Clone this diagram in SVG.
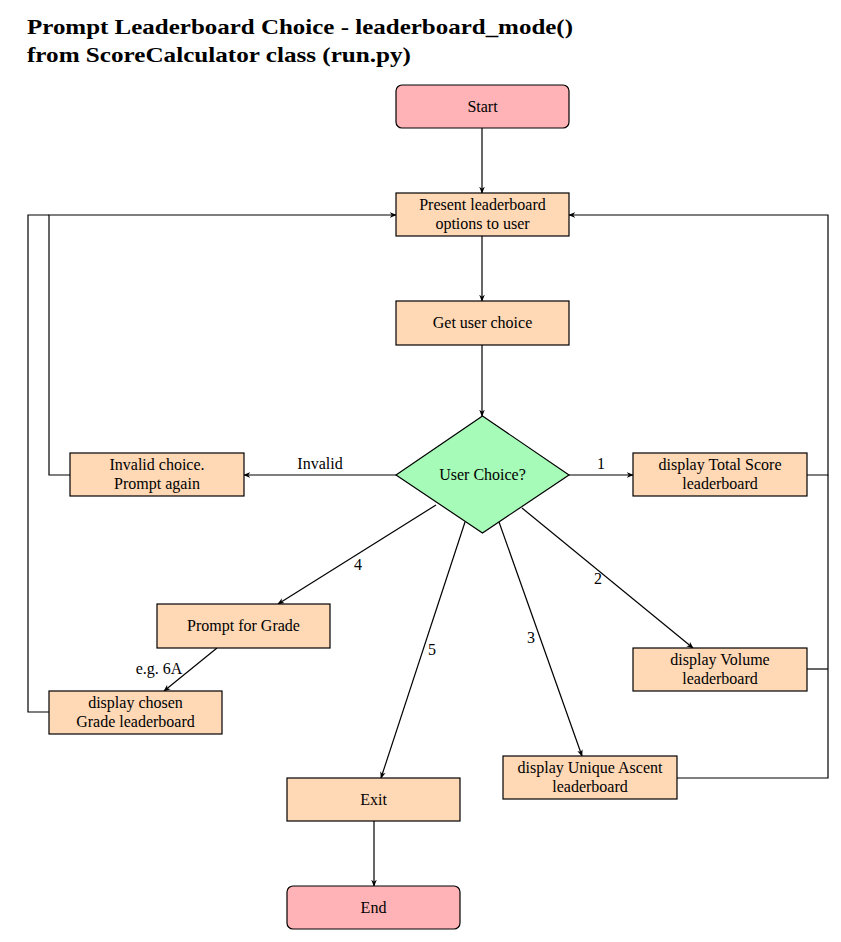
<svg xmlns="http://www.w3.org/2000/svg" width="841" height="942" viewBox="0 0 841 942">
<style>
.t{font-family:"Liberation Serif","DejaVu Serif",serif;font-size:16px;fill:#000;text-anchor:middle}
.title{font-family:"Liberation Serif","DejaVu Serif",serif;font-size:22px;font-weight:bold;fill:#000}
.box{fill:#ffd8b6;stroke:#000;stroke-width:1.2}
.term{fill:#ffb3b6;stroke:#000;stroke-width:1.2}
.dec{fill:#a6fbb8;stroke:#000;stroke-width:1.2}
.c{fill:none;stroke:#000;stroke-width:1.2}
</style>
<defs>
<marker id="a" viewBox="0 0 10 10" refX="9" refY="5" markerWidth="7" markerHeight="7" markerUnits="userSpaceOnUse" orient="auto">
<path d="M0,1 L10,5 L0,9 L3,5 Z" fill="#000"/>
</marker>
</defs>
<rect width="841" height="942" fill="#fff"/>
<text class="title" x="27" y="34" textLength="546" lengthAdjust="spacingAndGlyphs">Prompt Leaderboard Choice - leaderboard_mode()</text>
<text class="title" x="27" y="62" textLength="384" lengthAdjust="spacingAndGlyphs">from ScoreCalculator class (run.py)</text>

<g id="connectors">
<path class="c" d="M482,128 V193" marker-end="url(#a)"/>
<path class="c" d="M482,236 V301" marker-end="url(#a)"/>
<path class="c" d="M482,345 V416" marker-end="url(#a)"/>
<path class="c" d="M396,475 H244" marker-end="url(#a)"/>
<path class="c" d="M569,475 H633" marker-end="url(#a)"/>
<path class="c" d="M436,505 L278,604" marker-end="url(#a)"/>
<path class="c" d="M465,522 L381,778" marker-end="url(#a)"/>
<path class="c" d="M499,522 L582,756" marker-end="url(#a)"/>
<path class="c" d="M522,508 L693,648" marker-end="url(#a)"/>
<path class="c" d="M217,648 L164,691" marker-end="url(#a)"/>
<path class="c" d="M374,821 V886" marker-end="url(#a)"/>
<path class="c" d="M70,475 H49 V215 H396" marker-end="url(#a)"/>
<path class="c" d="M49,712 H28 V215 H49"/>
<path class="c" d="M807,475 H828 V215 H569" marker-end="url(#a)"/>
<path class="c" d="M807,669 H828"/>
<path class="c" d="M677,778 H828 V475"/>
<text class="t" x="320" y="469">Invalid</text>
<text class="t" x="601" y="469">1</text>
<text class="t" x="358" y="570">4</text>
<text class="t" x="598" y="584">2</text>
<text class="t" x="531" y="643">3</text>
<text class="t" x="432" y="655">5</text>
<text class="t" x="159" y="674">e.g. 6A</text>
</g>

<g id="start"><rect class="term" x="396" y="85" width="173" height="43" rx="6"/><text class="t" x="482.5" y="112">Start</text></g>
<g id="present"><rect class="box" x="396" y="193" width="173" height="43"/><text class="t" x="482.5" y="210">Present leaderboard</text><text class="t" x="482.5" y="229">options to user</text></g>
<g id="getchoice"><rect class="box" x="396" y="301" width="173" height="44"/><text class="t" x="482.5" y="328">Get user choice</text></g>
<g id="decision"><polygon class="dec" points="482.5,416 569,475 482.5,533 396,475"/><text class="t" x="482.5" y="480">User Choice?</text></g>
<g id="invalid"><rect class="box" x="70" y="453" width="174" height="43"/><text class="t" x="157" y="470">Invalid choice.</text><text class="t" x="157" y="489">Prompt again</text></g>
<g id="total"><rect class="box" x="633" y="453" width="174" height="43"/><text class="t" x="720" y="470">display Total Score</text><text class="t" x="720" y="489">leaderboard</text></g>
<g id="promptgrade"><rect class="box" x="157" y="604" width="173" height="44"/><text class="t" x="243.5" y="631">Prompt for Grade</text></g>
<g id="grade"><rect class="box" x="49" y="691" width="173" height="43"/><text class="t" x="135.5" y="708">display chosen</text><text class="t" x="135.5" y="727">Grade leaderboard</text></g>
<g id="volume"><rect class="box" x="633" y="648" width="174" height="43"/><text class="t" x="720" y="665">display Volume</text><text class="t" x="720" y="684">leaderboard</text></g>
<g id="unique"><rect class="box" x="503" y="756" width="174" height="43"/><text class="t" x="590" y="773">display Unique Ascent</text><text class="t" x="590" y="792">leaderboard</text></g>
<g id="exit"><rect class="box" x="287" y="778" width="173" height="43"/><text class="t" x="373.5" y="805">Exit</text></g>
<g id="end"><rect class="term" x="287" y="886" width="173" height="43" rx="6"/><text class="t" x="373.5" y="913">End</text></g>
</svg>
